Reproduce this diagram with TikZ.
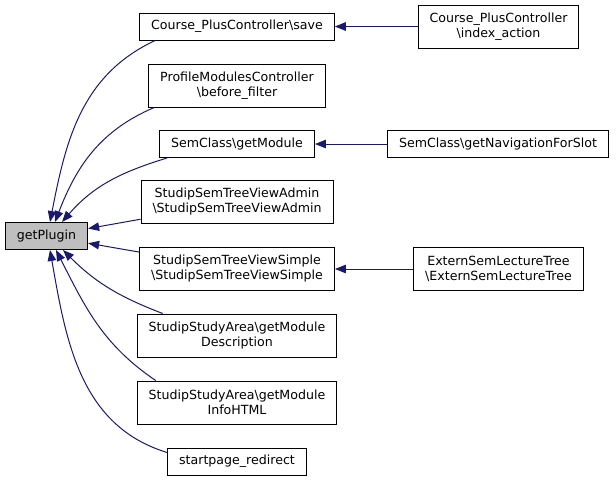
\documentclass[tikz,border=0pt]{standalone}
\usepackage{fontspec}
\setmainfont{DejaVu Sans}
\usetikzlibrary{arrows.meta}
\definecolor{edgeblue}{HTML}{191970}
\definecolor{boxgrey}{HTML}{BFBFBF}
\begin{document}
\begin{tikzpicture}[x=1pt,y=1pt]
    \useasboundingbox (0,0) rectangle (616,-480);
    \begin{scope}[shift={(0,0)}]
        \begin{scope}[every node/.style={rectangle, draw=black, fill=white, line width=1pt, inner xsep=11.5pt, minimum height=27pt, align=center, font=\fontsize{12.6}{15}\selectfont}]
            \node[fill=boxgrey] (0) at (46.5,-236) {getPlugin};
            \node (1) at (237,-26.5) {Course\_PlusController\textbackslash save};
            \node[minimum height=43pt] (2) at (237,-85.5) {ProfileModulesController\\\textbackslash before\_filter};
            \node (3) at (237,-144) {SemClass\textbackslash getModule};
            \node[minimum height=43pt] (4) at (237,-202) {StudipSemTreeViewAdmin\\\textbackslash StudipSemTreeViewAdmin};
            \node[minimum height=43pt] (5) at (237,-269) {StudipSemTreeViewSimple\\\textbackslash StudipSemTreeViewSimple};
            \node[minimum height=43pt] (6) at (237,-335.5) {StudipStudyArea\textbackslash getModule\\Description};
            \node[minimum height=43pt] (7) at (237,-402.5) {StudipStudyArea\textbackslash getModule\\InfoHTML};
            \node (8) at (237,-461.5) {startpage\_redirect};
            \node[minimum height=43pt] (9) at (498.5,-26.5) {Course\_PlusController\\\textbackslash index\_action};
            \node (10) at (498,-144) {SemClass\textbackslash getNavigationForSlot};
            \node[minimum height=43pt] (11) at (498.5,-269) {ExternSemLectureTree\\\textbackslash ExternSemLectureTree};
        \end{scope}

        \begin{scope}[every edge/.style={draw, edgeblue, line width=1pt}]
            \path [-{Triangle[length=11pt,width=8.5pt]}] ([xshift=16pt]1.south west) edge[out=205, in=79] ([xshift=3.5pt]0.north);
            \path [-{Triangle[length=11pt,width=8.5pt]}] ([xshift=6pt]2.south west) edge[out=203, in=69] ([xshift=8.5pt]0.north);
            \path [-{Triangle[length=11pt,width=8.5pt]}] ([xshift=8pt]3.south west) edge[out=197, in=49] ([xshift=15.5pt]0.north);
            \path [-{Triangle[length=11pt,width=8.5pt]}] (4) edge (0);
            \path [-{Triangle[length=11pt,width=8.5pt]}] (5) edge (0);
            \path [-{Triangle[length=11pt,width=8.5pt]}] ([xshift=26pt]6.north west) edge[out=159, in=-45] ([xshift=16.5pt]0.south);
            \path [-{Triangle[length=11pt,width=8.5pt]}] ([xshift=19pt]7.north west) edge[out=146, in=-63] ([xshift=9.5pt]0.south);
            \path [-{Triangle[length=11pt,width=8.5pt]}] ([yshift=-5pt]8.north west) edge[out=163, in=-80] ([xshift=3.5pt]0.south);

            \path [-{Triangle[length=11pt,width=8.5pt]}] (9) edge (1);
            \path [-{Triangle[length=11pt,width=8.5pt]}] (10) edge (3);
            \path [-{Triangle[length=11pt,width=8.5pt]}] (11) edge (5);
        \end{scope}
    \end{scope}
\end{tikzpicture}
\end{document}
